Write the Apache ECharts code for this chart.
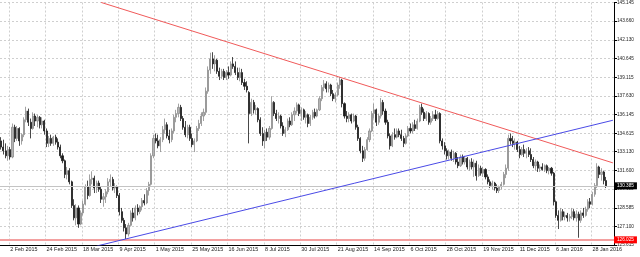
<!DOCTYPE html>
<html><head><meta charset="utf-8">
<script src="https://cdn.jsdelivr.net/npm/echarts@6/dist/echarts.min.js"></script>
<style>html,body{margin:0;padding:0;background:#fff}#c{width:640px;height:257px}</style>
</head><body><div id="c"></div>
<script>
// trading days, month by month
const months = ["Jan 2015","Feb 2015","Mar 2015","Apr 2015","May 2015","Jun 2015","Jul 2015","Aug 2015","Sep 2015","Oct 2015","Nov 2015","Dec 2015","Jan 2016","Feb 2016"];
const monthDays = [
  [27,28,29,30],
  [2,3,4,5,6,9,10,11,12,13,16,17,18,19,20,23,24,25,26,27],
  [2,3,4,5,6,9,10,11,12,13,16,17,18,19,20,23,24,25,26,27,30,31],
  [1,2,3,6,7,8,9,10,13,14,15,16,17,20,21,22,23,24,27,28,29,30],
  [1,4,5,6,7,8,11,12,13,14,15,18,19,20,21,22,25,26,27,28,29],
  [1,2,3,4,5,8,9,10,11,12,15,16,17,18,19,22,23,24,25,26,29,30],
  [1,2,3,6,7,8,9,10,13,14,15,16,17,20,21,22,23,24,27,28,29,30,31],
  [3,4,5,6,7,10,11,12,13,14,17,18,19,20,21,24,25,26,27,28,31],
  [1,2,3,4,7,8,9,10,11,14,15,16,17,18,21,22,23,24,25,28,29,30],
  [1,2,5,6,7,8,9,12,13,14,15,16,19,20,21,22,23,26,27,28,29,30],
  [2,3,4,5,6,9,10,11,12,13,16,17,18,19,20,23,24,25,26,27,30],
  [1,2,3,4,7,8,9,10,11,14,15,16,17,18,21,22,23,24,28,29,30,31],
  [4,5,6,7,8,11,12,13,14,15,18,19,20,21,22,25,26,27,28,29],
  [1,2,3,4,5,8,9,10]
];
const xLabels = ["2 Feb 2015","24 Feb 2015","18 Mar 2015","9 Apr 2015","1 May 2015","25 May 2015","16 Jun 2015","8 Jul 2015","30 Jul 2015","21 Aug 2015","14 Sep 2015","6 Oct 2015","28 Oct 2015","19 Nov 2015","11 Dec 2015","6 Jan 2016","28 Jan 2016"];
const yTicks = [125.615,127.100,128.585,130.115,131.600,133.130,134.615,136.145,137.630,139.115,140.645,142.130,143.660,145.145];

const open = [
134.0,133.5,133.2,132.8,133.3,132.7,135.1,134.2,135.0,134.0,
134.5,135.7,136.4,135.5,135.0,136.0,135.6,135.9,135.3,135.6,
134.8,133.8,134.2,133.8,134.3,133.9,133.5,132.8,132.4,131.3,
131.6,130.7,128.8,127.8,128.6,127.3,128.2,128.9,130.3,129.6,
130.9,131.0,130.2,130.6,130.1,129.3,129.5,129.9,130.7,130.9,
130.2,130.3,129.6,128.3,127.6,127.0,126.5,127.2,128.2,127.8,
128.6,128.3,128.7,129.2,129.0,130.0,130.5,132.8,134.2,134.0,
133.6,134.1,134.9,135.3,134.4,134.1,134.8,135.9,136.2,136.7,
135.8,135.1,134.5,135.1,134.2,133.7,134.0,135.0,135.4,136.0,
136.3,138.0,139.7,140.6,140.2,140.5,139.6,139.2,139.6,139.1,
139.5,139.3,140.2,140.0,139.5,139.1,139.5,138.7,138.4,137.9,
136.2,137.1,136.5,136.6,135.7,134.6,134.0,134.7,134.3,135.0,
137.1,136.2,135.8,136.0,135.2,134.6,134.9,135.6,135.3,136.1,
136.4,136.9,136.2,136.5,135.9,136.1,135.4,135.9,136.3,136.0,
136.5,137.4,138.3,138.6,138.2,138.5,137.8,137.4,137.7,138.5,
138.9,137.0,136.0,135.8,136.1,135.6,136.0,135.1,134.2,133.2,
132.6,133.3,134.1,134.8,136.2,136.5,135.5,136.0,137.1,136.4,
135.5,134.4,133.6,134.5,134.3,134.8,134.5,134.2,133.8,134.4,
135.0,134.8,135.3,135.0,135.6,136.7,136.3,135.8,136.2,135.5,
135.8,136.1,135.8,136.2,134.0,133.6,133.2,132.8,133.1,132.6,
133.0,132.3,132.0,132.7,132.3,132.6,131.9,132.3,131.9,132.2,
131.2,131.8,131.4,131.7,131.1,130.7,130.4,130.6,130.2,130.0,
130.3,130.5,131.3,131.8,134.2,134.0,133.8,133.9,133.3,132.9,
133.3,133.0,133.2,132.9,132.5,132.0,132.3,131.8,131.9,131.7,
132.0,131.6,131.8,131.4,129.1,128.0,127.6,128.3,127.9,128.0,
127.8,127.9,128.3,127.8,128.1,127.6,128.2,128.0,128.5,129.1,
128.9,129.7,130.4,131.9,131.3,131.5,130.8];
const high = [
134.3,134.1,133.8,133.6,133.5,135.4,135.3,135.2,135.1,134.6,
135.9,136.75,136.6,135.8,136.3,136.2,136.1,136.0,135.9,135.7,
135.0,134.4,134.5,134.4,134.5,134.2,133.7,133.0,132.5,131.9,
131.8,130.8,129.3,128.9,128.8,128.4,129.2,130.5,130.8,131.3,
131.55,131.2,130.8,130.8,130.3,129.8,130.1,131.0,131.3,131.1,
130.6,130.4,129.8,128.6,127.8,127.3,127.4,128.4,128.6,128.8,
128.9,128.8,129.4,129.7,130.2,130.7,133.0,134.5,134.6,134.5,
134.3,135.2,135.8,135.5,134.9,135.0,136.1,136.5,137.0,136.9,
136.0,135.6,135.3,135.3,134.6,134.2,135.2,135.7,136.3,136.6,
138.3,140.0,141.1,141.14,140.9,140.6,139.9,139.8,139.8,139.7,
140.0,140.4,140.75,140.4,139.9,139.9,139.8,139.0,138.8,138.0,
137.4,137.3,136.9,136.7,135.9,135.1,134.9,135.0,135.2,137.6,
137.2,136.5,136.3,136.1,135.5,135.1,135.8,135.9,136.3,136.7,
137.1,137.0,136.7,136.6,136.4,136.2,136.1,136.5,136.6,136.6,
137.6,138.5,138.9,138.8,138.7,138.6,138.1,137.9,138.7,139.15,
139.0,137.1,136.4,136.3,136.2,136.2,136.1,135.3,134.3,133.6,
133.5,134.3,135.0,136.4,137.0,136.6,136.2,137.45,137.3,136.6,
135.7,134.6,134.7,135.0,135.0,135.0,134.9,134.4,134.6,135.2,
135.4,135.5,135.7,135.8,136.9,137.0,136.6,136.4,136.3,136.0,
136.4,136.5,136.4,136.3,134.2,133.9,133.4,133.3,133.3,133.2,
133.1,132.7,132.9,132.9,132.8,132.7,132.5,132.6,132.5,132.4,
132.1,132.0,131.9,131.8,131.3,130.9,130.8,130.7,130.5,130.4,
130.7,131.5,132.1,134.5,134.6,134.4,134.2,134.0,133.6,133.5,
133.7,133.4,133.5,133.4,132.7,132.5,132.4,132.1,132.2,132.1,
132.1,131.9,131.9,131.5,129.2,128.4,128.6,128.5,128.3,128.2,
128.1,128.6,128.5,128.4,128.3,128.4,128.6,128.7,129.3,129.4,
129.9,130.6,132.2,132.0,131.8,131.6,131.1];
const low = [
133.3,132.9,132.6,132.4,132.5,132.6,133.9,134.0,133.6,133.7,
134.3,135.5,135.2,134.2,134.9,135.2,135.1,135.0,135.0,134.5,
133.5,133.5,133.6,133.6,133.7,133.3,132.6,132.2,131.0,130.9,
130.5,128.6,127.6,127.2,127.0,127.2,128.0,128.8,129.3,129.5,
130.5,129.8,129.8,129.9,129.0,128.7,129.0,129.7,130.3,130.0,
129.8,129.4,128.0,127.4,126.7,126.07,126.3,127.1,127.5,127.6,
128.0,128.1,128.4,128.8,128.9,129.6,130.4,132.6,133.8,133.4,
133.1,133.9,134.6,134.2,133.8,133.9,134.6,135.5,135.9,135.6,
134.9,134.3,134.2,134.0,133.5,133.1,133.9,134.8,135.2,135.6,
136.1,137.8,139.4,139.8,139.6,139.4,138.9,139.0,138.9,138.9,
139.0,139.2,139.8,139.3,138.9,138.8,138.5,138.1,137.9,133.8,
136.0,136.2,136.1,135.5,134.4,133.6,133.4,134.0,134.1,134.9,
136.0,135.6,135.4,135.0,134.4,134.3,134.8,135.1,135.2,135.6,
136.2,136.0,135.6,135.7,135.4,135.1,135.2,135.7,135.8,135.9,
136.4,137.2,138.0,137.9,137.9,137.6,137.2,137.1,137.6,138.2,
136.7,135.8,135.5,135.5,135.4,135.5,134.9,134.0,133.0,132.3,
132.4,133.2,133.9,134.7,135.8,135.2,135.3,135.8,136.1,135.3,
134.2,133.3,133.5,134.1,134.2,134.3,134.0,133.5,133.7,134.3,
134.6,134.6,134.8,134.9,135.5,136.1,135.6,135.6,135.3,135.3,
135.6,135.6,135.7,133.8,133.3,132.9,132.5,132.5,132.4,132.3,
132.1,131.8,131.9,132.1,132.1,131.7,131.6,131.7,131.1,130.8,
131.1,131.2,131.1,130.9,130.5,130.2,130.1,130.0,129.8,129.8,
130.1,130.4,131.0,131.6,133.7,133.5,133.3,133.1,132.6,132.8,
132.7,132.6,132.7,132.3,131.8,131.6,131.5,131.5,131.6,131.5,
131.4,131.3,131.2,128.8,127.8,126.9,127.5,127.6,127.6,127.5,
127.5,127.7,127.6,127.5,126.2,127.4,127.8,127.9,128.3,128.6,
128.8,129.5,130.2,131.0,130.8,130.5,130.2];
const close = [
133.5,133.2,132.8,133.3,132.7,135.1,134.2,135.0,134.0,134.5,
135.7,136.4,135.5,135.0,136.0,135.6,135.9,135.3,135.6,134.8,
133.8,134.2,133.8,134.3,133.9,133.5,132.8,132.4,131.3,131.6,
130.7,128.8,127.8,128.6,127.3,128.2,128.9,130.3,129.6,130.9,
131.0,130.2,130.6,130.1,129.3,129.5,129.9,130.7,130.9,130.2,
130.3,129.6,128.3,127.6,127.0,126.5,127.2,128.2,127.8,128.6,
128.3,128.7,129.2,129.0,130.0,130.5,132.8,134.2,134.0,133.6,
134.1,134.9,135.3,134.4,134.1,134.8,135.9,136.2,136.7,135.8,
135.1,134.5,135.1,134.2,133.7,134.0,135.0,135.4,136.0,136.3,
138.0,139.7,140.6,140.2,140.5,139.6,139.2,139.6,139.1,139.5,
139.3,140.2,140.0,139.5,139.1,139.5,138.7,138.4,138.1,136.2,
137.1,136.5,136.6,135.7,134.6,134.0,134.7,134.3,135.0,137.1,
136.2,135.8,136.0,135.2,134.6,134.9,135.6,135.3,136.1,136.4,
136.9,136.2,136.5,135.9,136.1,135.4,135.9,136.3,136.0,136.5,
137.4,138.3,138.6,138.2,138.5,137.8,137.4,137.7,138.5,138.9,
137.0,136.0,135.8,136.1,135.6,136.0,135.1,134.2,133.2,132.6,
133.3,134.1,134.8,136.2,136.5,135.5,136.0,137.1,136.4,135.5,
134.4,133.6,134.5,134.3,134.8,134.5,134.2,133.8,134.4,135.0,
134.8,135.3,135.0,135.6,136.7,136.3,135.8,136.2,135.5,135.8,
136.1,135.8,136.2,134.0,133.6,133.2,132.8,133.1,132.6,133.0,
132.3,132.0,132.7,132.3,132.6,131.9,132.3,131.9,132.2,131.2,
131.8,131.4,131.7,131.1,130.7,130.4,130.6,130.2,130.0,130.3,
130.5,131.3,131.8,134.2,134.0,133.8,133.9,133.3,132.9,133.3,
133.0,133.2,132.9,132.5,132.0,132.3,131.8,131.9,131.7,132.0,
131.6,131.8,131.4,129.1,128.0,127.6,128.3,127.9,128.0,127.8,
127.9,128.3,127.8,128.1,127.6,128.2,128.0,128.5,129.1,128.9,
129.7,130.4,131.9,131.3,131.5,130.8,130.385];

const supportLevel = 126.025;
const lastPrice = 130.385;
const redTrend = [["30 Mar 2015", 145.15], ["10 Feb 2016", 132.23]];
const blueTrend = [["26 Mar 2015", 125.53], ["10 Feb 2016", 135.66]];

const categories = [];
months.forEach((m, i) => monthDays[i].forEach(d => categories.push(d + ' ' + m)));
const candles = open.map((o, i) => [o, close[i], low[i], high[i]]);
const labelSet = new Set(xLabels);
const showAt = (i, v) => labelSet.has(v);
const FONT = 'Liberation Sans';

const chart = echarts.init(document.getElementById('c'), null, {renderer: 'canvas'});
chart.setOption({
  animation: false,
  backgroundColor: '#ffffff',
  grid: {left: 0, right: 26, top: 0, bottom: 12},
  xAxis: {
    type: 'category', data: categories, boundaryGap: true,
    axisLine: {lineStyle: {color: '#000', width: 1}},
    axisTick: {interval: showAt, alignWithLabel: true, length: 3, lineStyle: {color: '#000'}},
    axisLabel: {interval: showAt, align: 'left', fontSize: 5.4, color: '#222', margin: 2, fontFamily: FONT},
    splitLine: {show: true, interval: showAt, lineStyle: {color: '#cfcfcf', type: [2, 2], width: 1}}
  },
  yAxis: {
    type: 'value', position: 'right', min: 125.615, max: 145.145,
    axisLine: {show: true, lineStyle: {color: '#000', width: 1}},
    axisTick: {show: true, customValues: yTicks, length: 3, lineStyle: {color: '#000'}},
    axisLabel: {customValues: yTicks, formatter: v => v.toFixed(3), fontSize: 4.7, color: '#222', margin: 3, fontFamily: FONT},
    splitLine: {show: true, lineStyle: {color: '#cfcfcf', type: [2, 2], width: 1}}
  },
  series: [
    {
      type: 'candlestick', data: candles, barWidth: '70%',
      itemStyle: {color: '#b4b4b4', color0: '#1a1a1a', borderColor: '#8c8c8c', borderColor0: '#1a1a1a', borderWidth: 0.8},
      markLine: {
        symbol: ['none', 'none'], silent: true, animation: false,
        data: [
          {yAxis: supportLevel, lineStyle: {color: '#f3a0a0', width: 2, type: 'solid'},
           label: {show: true, position: 'end', distance: 0, formatter: supportLevel.toFixed(3),
                   backgroundColor: '#ff0000', color: '#fff', fontSize: 4.7, fontFamily: FONT, padding: [1, 3, 1, 3]}},
          {yAxis: lastPrice, lineStyle: {color: '#c4c4c4', width: 1, type: 'solid'},
           label: {show: true, position: 'end', distance: 0, formatter: lastPrice.toFixed(3),
                   backgroundColor: '#000', color: '#fff', fontSize: 4.7, fontFamily: FONT, padding: [1, 3, 1, 3]}}
        ]
      }
    },
    {type: 'line', data: redTrend, symbol: 'none', clip: true, lineStyle: {color: '#f05a5a', width: 1}, z: 5},
    {type: 'line', data: blueTrend, symbol: 'none', clip: true, lineStyle: {color: '#4a4ae6', width: 1}, z: 5}
  ]
});
</script>
</body></html>
